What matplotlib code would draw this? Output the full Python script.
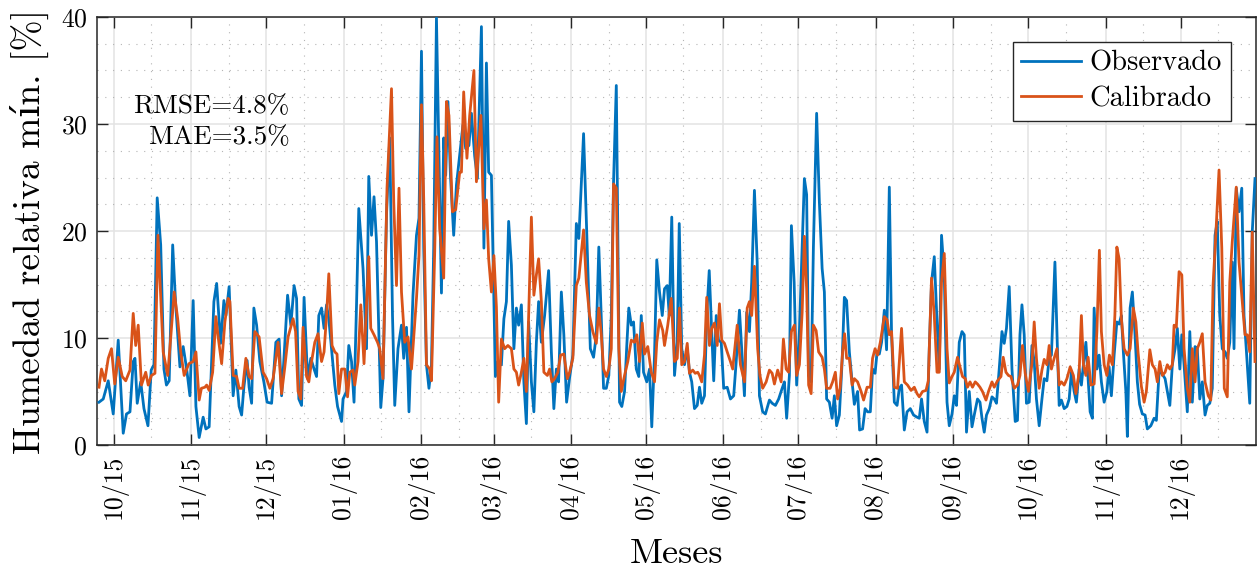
import numpy as np
import matplotlib
matplotlib.use("Agg")
import matplotlib.pyplot as plt
import matplotlib.dates as mdates
from matplotlib.ticker import MultipleLocator

# ---------------- data (days since 2015-10-01, humedad relativa minima %) ----------------
inicio = np.datetime64('2015-10-01')

obs_dias = [-6, -4.3, -2.3, -0.3, 1.7, 3.7, 5, 6.4, 7.7, 8.4, 9.3, 10.7, 12, 13.6, 14.9, 16, 17.3, 18.7,
            20, 21, 22.1, 23.5, 24.7, 26.4, 27.7, 29.1, 30.4, 31.7, 32.8, 34.1, 35.7, 36.8, 38.1, 40, 41.1,
            42.7, 44, 44.8, 46.1, 47.7, 48.8, 50.1, 51.1, 52, 53.3, 54.1, 55.1, 56, 57.1, 58.4, 60, 61.3,
            63.1, 64.8, 66.1, 67.1, 68, 69.5, 70.8, 72.1, 73.1, 74, 75.1, 76.1, 77.5, 78.8, 80.1, 81.1, 82,
            83.1, 84.1, 85.1, 86, 87.1, 88.4, 89.5, 91.1, 91.7, 93.1, 94, 95.1, 96.1, 97.1, 98, 99.7, 101.1,
            102, 103.1, 104.1, 105.1, 106.8, 107.7, 109.1, 110.4, 111.5, 112.4, 113.7, 115.1, 116, 117.1,
            118.1, 119.7, 121.1, 122.1, 123.1, 124, 125.1, 126.1, 127.1, 128, 129.1, 130.1, 131.1, 132,
            132.8, 133.7, 134.7, 136, 137.1, 138.4, 139.7, 140.8, 142.1, 143.1, 144.4, 145.5, 147.1, 148.1,
            149.1, 150, 151.1, 152.7, 153.7, 155.1, 156.1, 157.1, 158, 159.1, 160.1, 161.1, 162, 163.1,
            164.1, 165.1, 166, 167.1, 168.1, 169.1, 170, 171.1, 172.4, 174, 175.1, 176.1, 177.1, 178,
            179.1, 180.1, 181.2, 182.4, 183.7, 185.1, 186.1, 188, 189.3, 190.7, 192, 193.1, 194.1, 195.1,
            196, 197.1, 198.1, 199.1, 200, 201.1, 202.4, 203.3, 204.4, 205.3, 206.1, 207.1, 208, 209.1,
            210.1, 211.1, 212, 213.3, 214.4, 215.3, 216.4, 217.3, 218.4, 219.5, 220.4, 221.5, 222.3, 223.3,
            224.4, 225.5, 226.3, 227.3, 228.4, 229.5, 230.4, 231.3, 232.4, 233.5, 234.4, 235.3, 236.4,
            237.3, 238.3, 239.3, 240.1, 241.1, 242, 243.1, 244.1, 245.5, 246.8, 248.1, 249.1, 250.4, 251.3,
            252.4, 253.3, 254.4, 255.3, 256.4, 257.5, 258.4, 259.7, 260.8, 262.4, 263.5, 264.8, 266.1,
            267.5, 268.4, 269.3, 270.4, 271.2, 272.3, 273.3, 274.4, 275.5, 276.4, 277.3, 278.1, 279.1, 280,
            281.3, 282.4, 283.5, 284.4, 285.3, 286.4, 287.5, 288.4, 289.3, 290.4, 291.5, 292.4, 293.3,
            294.4, 295.5, 296.4, 297.7, 298.5, 299.7, 300.7, 301.7, 302.8, 303.7, 304.7, 305.5, 306.4,
            307.3, 308.4, 309.3, 310.4, 311.3, 312.4, 313.5, 314.4, 315.3, 316.4, 317.5, 318.8, 320.1,
            321.5, 322.4, 323.3, 324.4, 325.5, 326.4, 327.3, 328.4, 329.5, 330.4, 331.3, 332.4, 333.5,
            334.4, 335.5, 336.4, 337.3, 338.4, 339.5, 340.4, 341.3, 342.4, 343.5, 344.4, 345.7, 346.7,
            347.5, 348.4, 349.3, 350.4, 351.5, 352.4, 353.3, 354.4, 355.5, 356.4, 357.3, 358.4, 359.5,
            360.8, 361.7, 362.7, 363.5, 364.4, 365.3, 366.4, 367.5, 368.4, 369.3, 370.4, 371.5, 372.4,
            373.5, 374.4, 375.3, 376.7, 377.7, 378.4, 379.3, 380.4, 381.5, 382.4, 383.3, 384.4, 385.3,
            386.4, 387.3, 388.1, 389.1, 390, 390.8, 391.7, 392.4, 393.5, 394.4, 395.3, 396.4, 397.5, 398.4,
            399.3, 400.4, 401.5, 402.4, 403.3, 404.1, 405.1, 405.7, 406.8, 407.7, 408.7, 409.7, 410.6,
            411.7, 412.8, 413.7, 415.1, 416.4, 417.3, 418.4, 419.5, 420.8, 421.7, 422.7, 423.7, 424.8,
            425.7, 426.7, 427.5, 428.4, 429.7, 430.7, 431.7, 432.8, 433.7, 434.7, 435.7, 436.8, 437.7,
            438.7, 439.7, 440.8, 441.7, 442.7, 443.7, 444.8, 445.7, 446.7, 447.7, 448.4, 449.3, 450.4,
            451.5, 452.4, 453.3, 454.7, 455.7, 456.8]
obs_hr = [4.0, 4.3, 6.0, 2.9, 9.8, 1.1, 2.9, 3.1, 7.8, 8.1, 3.9, 5.9, 3.4, 1.8, 7.0, 7.5, 23.1, 18.7,
          7.1, 5.6, 6.0, 18.7, 13.1, 7.3, 9.2, 7.1, 4.6, 13.5, 3.6, 0.7, 2.6, 1.5, 1.7, 13.4, 15.1,
          9.5, 13.5, 12.1, 14.8, 4.6, 7.0, 3.6, 2.8, 5.4, 7.9, 5.4, 3.9, 12.8, 11.2, 7.8, 5.9, 4.0,
          3.9, 9.6, 9.9, 4.6, 7.9, 14.0, 11.2, 14.9, 13.7, 4.3, 3.7, 13.8, 6.2, 8.1, 7.1, 6.4, 12.1,
          12.8, 10.9, 13.1, 11.8, 9.0, 5.6, 3.6, 2.2, 4.3, 5.0, 9.3, 7.8, 4.0, 13.1, 22.1, 16.5, 9.0,
          25.1, 19.6, 23.2, 19.0, 3.5, 6.2, 21.5, 28.7, 12.1, 3.7, 9.0, 11.2, 8.1, 11.0,
          3.1, 14.0, 19.6, 21.2, 36.8, 18.4, 7.5, 5.3, 7.5, 18.4, 39.9, 27.1, 14.2, 28.7,
          25.2, 32.1, 25.2, 19.6, 24.3, 27.1, 29.9, 27.7, 28.0, 31.0, 27.0, 24.9, 39.1, 18.4,
          35.7, 25.5, 25.2, 6.4, 7.8, 7.5, 11.8, 13.4, 20.9, 16.8, 9.0, 12.8, 11.2, 13.1,
          5.9, 2.0, 11.5, 5.9, 3.1, 9.6, 13.4, 9.6, 12.1, 16.3, 8.7, 3.4, 7.1, 5.9,
          14.3, 10.3, 4.0, 6.3, 8.4, 20.7, 19.3, 29.1, 19.6, 9.0, 8.2, 10.3, 18.5, 11.8,
          5.3, 5.3, 6.5, 12.1, 24.6, 33.6, 4.0, 3.6, 5.0, 9.3, 12.8, 11.2, 11.5, 7.1,
          6.4, 12.1, 6.8, 5.9, 7.1, 1.7, 8.4, 17.3, 14.3, 12.1, 14.6, 14.9, 12.1, 21.3,
          6.5, 9.6, 20.7, 9.0, 7.5, 9.0, 6.8, 5.9, 3.4, 3.7, 5.4, 3.9, 4.6,
          12.1, 16.3, 10.6, 6.0, 12.1, 9.8, 9.6, 5.3, 5.4, 4.3, 4.6, 7.8, 12.6, 9.0,
          4.6, 12.4, 10.6, 15.2, 23.8, 17.1, 4.6, 3.1, 2.9, 4.2, 3.9, 3.7, 4.3,
          5.3, 5.9, 2.5, 6.5, 20.5, 15.2, 5.6, 10.6, 18.4, 24.9, 23.4, 6.5, 5.9, 18.4,
          31.0, 22.7, 16.5, 14.3, 4.3, 4.0, 2.5, 4.6, 1.8, 2.8, 7.8, 13.8, 13.5,
          8.7, 5.9, 3.8, 5.0, 1.4, 1.5, 3.4, 3.1, 3.1, 7.1, 6.7, 8.7, 8.5,
          9.6, 12.6, 8.9, 24.1, 10.3, 4.0, 3.7, 5.3, 5.6, 1.4, 3.1, 3.4, 2.8,
          2.6, 2.5, 4.3, 2.2, 1.2, 9.0, 15.2, 17.6, 11.5, 7.1, 19.6, 15.9, 4.0,
          1.8, 2.9, 4.6, 3.7, 9.6, 10.6, 10.3, 1.2, 5.0, 1.7, 2.8, 4.3, 4.0,
          2.5, 1.2, 2.8, 3.4, 4.5, 4.3, 3.9, 7.1, 10.6, 9.5, 10.9, 14.8, 7.1,
          2.2, 2.3, 10.3, 13.1, 10.3, 3.9, 4.0, 9.3, 7.8, 4.3, 1.8, 4.3, 6.2,
          6.0, 8.2, 8.4, 17.1, 9.0, 3.7, 4.2, 3.4, 3.6, 4.3, 6.8, 5.0, 4.0,
          7.1, 5.6, 7.5, 9.6, 6.2, 3.1, 2.5, 12.8, 7.1, 8.4, 5.9, 4.0, 5.0, 7.3,
          4.6, 8.4, 11.5, 11.3, 12.1, 8.7, 5.0, 0.8, 12.8, 14.3, 10.6, 5.9, 3.8,
          2.9, 2.8, 1.5, 1.8, 2.5, 2.3, 6.8, 6.7, 6.2, 5.0, 3.7, 7.5, 9.0,
          10.9, 7.1, 10.3, 7.5, 3.1, 10.6, 4.0, 9.2, 9.0, 4.3, 5.9, 2.8, 3.7,
          3.9, 5.3, 19.6, 20.9, 12.1, 9.0, 8.7, 8.1, 9.6, 17.1, 9.0, 24.0, 21.8,
          24.0, 12.1, 9.0, 3.9, 19.9, 24.9]

cal_dias = [-6, -5, -3.7, -2.3, -1, 0.3, 1.7, 3.3, 4.7, 6.4, 7.7, 8.7, 9.7, 11, 12.7, 13.7, 15, 16.4,
            17.6, 19.7, 21.5, 22.8, 24.1, 25.5, 26.7, 28.1, 30, 31.7, 32.8, 34.1, 35, 36.4, 37.1, 38.1,
            39.5, 40.8, 41.7, 43.1, 44.4, 45.7, 46.4, 47.7, 49.1, 50.1, 51.5, 52.8, 54.1, 55.1, 56.4,
            58.1, 59.7, 61.1, 62.4, 63.7, 65.7, 67.1, 68.4, 69.7, 71.7, 72.7, 73.7, 74.8, 75.7, 77.1,
            78, 79.1, 80.4, 81.7, 83.1, 84.1, 85.1, 86, 87.3, 88.4, 89.3, 90, 91.1, 92.4, 93.5, 94.4,
            95.7, 96.4, 97.7, 98.8, 100.1, 101.1, 102, 102.8, 104.1, 105.5, 106.4, 107.7, 109.3, 111.1,
            112, 113.1, 114.1, 115.1, 116.4, 117.7, 119.1, 121.1, 122.1, 123.1, 124, 125.1, 126.4,
            127.1, 128.4, 129.3, 130.4, 132, 133.1, 134.1, 135.5, 136.8, 138.4, 139.1, 140, 141.3,
            142.4, 144.1, 145.1, 146.9, 148.1, 149.1, 150, 151.1, 152.1, 153.1, 154, 155.1, 156.4,
            157.7, 159.1, 160.1, 161.1, 162, 163.1, 164.1, 165.1, 166, 167.1, 168.1, 169.1, 170, 171.1,
            172.1, 173.5, 174.4, 175.3, 176.4, 177.7, 178.8, 180.1, 181.5, 182.4, 183.7, 185.1, 186.1,
            188, 189.1, 190.4, 191.7, 193.1, 194.1, 195.1, 196, 197.1, 198.1, 199.1, 200, 201.1, 202.1,
            203.1, 204.4, 205.7, 207.1, 208.4, 209.3, 210.4, 211.5, 212.4, 213.7, 215.1, 216.4, 217.3,
            218.4, 219.7, 220.4, 221.7, 223.1, 224.4, 225.5, 226.4, 227.3, 228.4, 229.5, 230.4, 231.7,
            232.7, 233.7, 234.4, 235.3, 236.4, 237.3, 238.4, 239.3, 240.4, 241.5, 242.4, 243.3, 244.4,
            245.5, 246.8, 247.7, 249.5, 250.8, 252.4, 253.5, 254.4, 255.3, 256.4, 257.7, 258.6, 259.7,
            261.1, 262.4, 263.5, 264.4, 265.7, 267.1, 268, 269.1, 270.1, 271.2, 272.4, 273.3, 274.4,
            275.5, 276.4, 277.3, 278.1, 279.1, 280, 281.1, 282.1, 283.5, 284.4, 285.3, 286.7, 287.7,
            288.8, 289.7, 290.7, 291.7, 292.5, 293.3, 294.4, 295.5, 296.4, 297.7, 299.1, 300.1, 301.5,
            302.8, 303.7, 304.7, 305.7, 306.8, 308.4, 309.5, 310.4, 311.3, 312.4, 313.7, 315.3, 316.4,
            317.7, 319.1, 320.4, 321.5, 322.4, 323.7, 325.1, 326, 327.3, 328.4, 329.5, 330.4, 331.3,
            332.4, 333.5, 334.4, 335.5, 336.4, 337.7, 338.7, 339.7, 340.8, 341.7, 342.7, 343.7, 344.8,
            345.7, 346.7, 347.7, 349.1, 350.1, 351.5, 352.4, 353.7, 355.1, 356, 357.1, 358.1, 359.1,
            360.4, 361.7, 362.7, 363.7, 364.8, 366.1, 367.5, 368.4, 369.3, 370.4, 371.5, 372.4, 373.5,
            374.4, 375.3, 376.4, 377.5, 378.4, 379.3, 380.4, 381.5, 382.8, 384.1, 385.1, 386.4, 387.3,
            388.1, 389.1, 390, 391.1, 392.4, 393.5, 394.5, 395.3, 396.4, 397.5, 398.5, 399.7, 400.7,
            401.5, 402.4, 403.3, 404.4, 405.7, 406.8, 408.1, 409.1, 410, 411.3, 412.4, 413.3, 414.7,
            415.7, 416.8, 417.7, 418.7, 419.7, 420.8, 421.7, 422.7, 423.7, 424.4, 425.3, 426.4, 427.5,
            428.4, 429.7, 430.7, 431.7, 432.8, 433.7, 434.7, 435.7, 436.8, 438.1, 439.1, 440, 441.1,
            442.4, 443.5, 444.5, 445.7, 446.7, 447.7, 449.3, 450.4, 451.5, 452.8, 453.7, 454.7, 455.7,
            456.8]
cal_hr = [5.4, 7.1, 6.0, 8.1, 9.0, 5.7, 8.2, 6.4, 6.0, 7.0, 12.3, 9.3, 11.2, 5.6, 6.8, 5.6, 6.5, 6.7,
          19.6, 8.7, 6.5, 10.3, 14.3, 11.8, 8.7, 6.5, 7.6, 7.8, 8.7, 4.2, 5.3, 5.4, 5.6, 5.1,
          6.8, 12.0, 10.1, 7.6, 11.5, 13.7, 13.4, 6.5, 6.4, 5.3, 5.3, 8.1, 6.4, 6.2, 10.6,
          10.1, 6.8, 6.2, 5.3, 6.2, 9.6, 4.8, 7.3, 10.1, 11.8, 10.6, 5.0, 4.3, 11.0, 6.4,
          5.9, 7.8, 9.6, 10.4, 7.8, 8.7, 12.1, 16.0, 9.3, 8.7, 8.5, 4.8, 7.1, 7.1, 4.5, 6.8,
          7.0, 5.6, 7.8, 13.1, 7.6, 13.1, 17.6, 10.9, 10.3, 9.6, 9.0, 6.2, 24.0, 33.3,
          22.7, 14.9, 24.0, 14.3, 9.6, 10.1, 7.1, 13.7, 17.7, 31.8, 23.0, 7.5, 7.1,
          6.0, 18.1, 28.8, 20.2, 15.6, 32.1, 30.8, 21.8, 22.0, 25.5, 25.5, 33.0, 26.8,
          30.8, 35.0, 24.6, 30.8, 20.2, 22.9, 17.4, 14.3, 17.7, 12.9, 4.0, 9.9, 9.0,
          9.3, 9.0, 7.1, 6.8, 5.6, 6.8, 8.1, 5.0, 12.0, 21.3, 14.0, 15.9, 17.4, 13.4,
          6.8, 6.5, 7.1, 5.9, 6.2, 6.8, 8.4, 8.5, 6.2, 6.8, 8.1, 14.9, 15.6,
          20.1, 15.2, 12.1, 10.6, 9.5, 12.8, 10.3, 7.1, 6.4, 7.1, 9.0, 24.4, 24.0, 9.0,
          5.0, 6.5, 7.8, 9.8, 9.6, 10.3, 7.8, 11.4, 8.5, 9.2, 6.8, 5.9, 9.6,
          11.7, 10.7, 9.3, 11.2, 13.7, 7.8, 8.1, 12.8, 7.5, 7.8, 9.5, 6.7, 7.0,
          6.7, 6.8, 6.5, 5.9, 8.4, 13.8, 9.3, 10.9, 11.4, 9.3, 13.2, 9.8, 9.5,
          8.7, 7.8, 7.1, 11.2, 7.5, 5.9, 12.8, 13.4, 12.1, 16.7, 9.0, 6.5, 5.3,
          5.9, 7.0, 6.7, 5.7, 7.0, 5.9, 9.9, 7.1, 6.8, 10.6, 11.2, 6.5, 7.5,
          12.4, 19.5, 14.6, 5.6, 4.8, 11.2, 10.7, 8.7, 8.2, 7.1, 5.3, 5.3, 5.9,
          6.8, 4.3, 5.3, 8.7, 10.4, 8.1, 8.1, 5.6, 6.2, 5.9, 5.0, 4.2, 5.4,
          5.4, 8.1, 9.0, 8.4, 9.6, 12.0, 11.7, 10.3, 10.6, 5.4, 5.3, 10.9, 5.9,
          5.6, 5.1, 5.4, 4.8, 4.5, 5.0, 5.1, 6.0, 15.6, 12.1, 6.8, 6.8, 15.2,
          17.9, 9.0, 5.8, 6.4, 6.8, 8.2, 7.3, 6.4, 6.2, 5.4, 5.9, 5.4, 5.9,
          5.7, 5.4, 5.0, 4.2, 5.0, 5.9, 5.4, 6.0, 6.4, 8.2, 6.8, 6.5, 6.4,
          5.3, 5.6, 6.5, 9.3, 6.7, 5.0, 7.6, 11.5, 8.1, 5.3, 7.0, 8.0, 7.5,
          9.3, 7.1, 8.1, 9.0, 5.6, 5.9, 5.6, 6.2, 7.3, 6.5, 4.8, 6.8, 12.1,
          7.5, 6.5, 8.2, 5.6, 5.7, 10.6, 18.2, 10.6, 7.5, 6.5, 8.4, 7.5, 12.1,
          18.5, 17.4, 11.8, 9.0, 8.4, 9.0, 12.8, 11.5, 8.6, 5.5, 4.0, 5.0, 8.9,
          7.5, 7.1, 5.9, 7.8, 6.5, 6.8, 7.5, 7.1, 7.5, 11.2, 11.0, 16.2, 15.9,
          9.0, 5.3, 4.0, 9.0, 5.9, 9.0, 9.6, 10.4, 5.9, 4.6, 4.2, 14.9, 19.6,
          25.7, 18.4, 5.3, 4.5, 15.2, 19.0, 24.1, 17.1, 14.0, 10.3, 10.3, 8.7, 19.9,
          7.8]

metricas = ["RMSE=4.8%", "MAE=3.5%"]
series = ["Observado", "Calibrado"]
colores = ["#0072BD", "#D95319"]

# ---------------- figure ----------------
plt.rcParams['font.family'] = ['cmr10', 'DejaVu Serif']
plt.rcParams['mathtext.fontset'] = 'cm'
plt.rcParams['axes.unicode_minus'] = False
plt.rcParams['axes.formatter.use_mathtext'] = True

fig = plt.figure(figsize=(12.57, 5.68), dpi=100)
ax = fig.add_axes([97/1257, 1-445/568, (1256-97)/1257, (445-17)/568])

base = mdates.date2num(inicio)
x_obs = base + np.asarray(obs_dias, dtype=float)
x_cal = base + np.asarray(cal_dias, dtype=float)

ax.plot(x_obs, obs_hr, color=colores[0], lw=2.0, label=series[0], zorder=3)
ax.plot(x_cal, cal_hr, color=colores[1], lw=2.0, label=series[1], zorder=4)

ax.set_xlim(base - 6.8, base + 457.2)
ax.set_ylim(0, 40)

ax.xaxis.set_major_locator(mdates.MonthLocator())
ax.xaxis.set_major_formatter(mdates.DateFormatter('%m/%y'))
ax.xaxis.set_minor_locator(mdates.MonthLocator(bymonthday=16))
ax.yaxis.set_major_locator(MultipleLocator(10))
ax.yaxis.set_minor_locator(MultipleLocator(2.5))

ax.grid(True, which='major', color='#e3e3e3', lw=1.1, zorder=0)
ax.grid(True, which='minor', color='#b5b5b5', lw=0.8, linestyle=(0, (1, 6)), zorder=0)
ax.set_axisbelow(True)

ax.tick_params(which='major', direction='in', length=8, width=1.0, color='#262626',
               top=True, right=True, labelsize=18.5, pad=7)
ax.tick_params(which='minor', length=0)
for lab in ax.get_xticklabels():
    lab.set_rotation(90)
for s in ax.spines.values():
    s.set_color('#262626')
    s.set_linewidth(1.1)

ax.set_xlabel('Meses', fontsize=26, labelpad=14)
ax.set_ylabel('Humedad relativa mín. [%]', fontsize=27, labelpad=8)

ax.text(0.166, 0.755, "\n".join(metricas), transform=ax.transAxes, ha='right', va='center',
        multialignment='right', fontsize=19.5, linespacing=1.4, zorder=5)

leg = ax.legend(loc='upper right', bbox_to_anchor=(0.978, 0.942), fontsize=20.5, frameon=True,
                fancybox=False, edgecolor='#262626', framealpha=1, handlelength=2.1,
                handletextpad=0.3, labelspacing=0.32, borderpad=0.3, borderaxespad=0)
leg.get_frame().set_linewidth(1.0)

fig.savefig('out.png', dpi=100)
